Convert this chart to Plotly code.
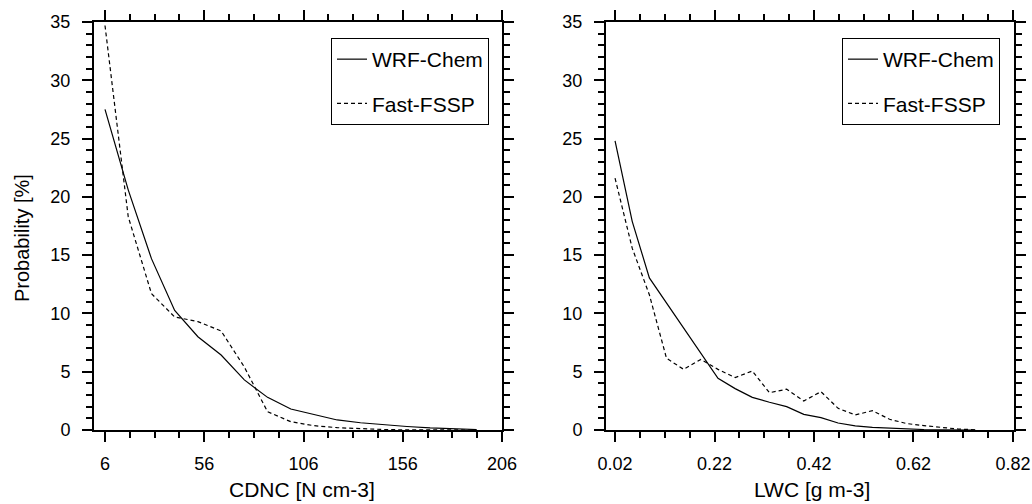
import plotly.graph_objects as go

# ---- data ----
cdnc_bins = [6, 17.7, 29.4, 41.1, 52.8, 64.5, 76.2, 87.9, 99.6, 111.3, 123.0,
             134.7, 146.4, 158.1, 169.8, 181.5, 193.2]
cdnc_wrf = [27.5, 20.6, 14.7, 10.25, 8.0, 6.43, 4.3, 2.8, 1.8, 1.3, 0.86,
            0.62, 0.45, 0.3, 0.18, 0.1, 0.04]
cdnc_fssp = [34.7, 18.3, 11.7, 9.7, 9.3, 8.5, 5.4, 1.57, 0.71, 0.37, 0.2,
             0.1, 0.04, 0.01, 0.0, 0.0, 0.0]

lwc_bins = [0.02, 0.0545, 0.089, 0.1235, 0.158, 0.1925, 0.227, 0.2615, 0.296,
            0.3305, 0.365, 0.3995, 0.434, 0.4685, 0.503, 0.5375, 0.572,
            0.6065, 0.641, 0.6755, 0.71, 0.7445]
lwc_wrf = [24.8, 17.9, 13.05, 10.9, 8.75, 6.6, 4.43, 3.55, 2.8, 2.38, 2.0,
           1.34, 1.06, 0.6, 0.35, 0.22, 0.14, 0.08, 0.04, 0.02, 0.01, 0.0]
lwc_fssp = [21.6, 15.6, 11.6, 6.15, 5.2, 6.06, 5.2, 4.5, 5.06, 3.2, 3.5,
            2.49, 3.29, 1.86, 1.29, 1.66, 0.92, 0.55, 0.38, 0.22, 0.08, 0.02]

cdnc_ticks = [6, 56, 106, 156, 206]
lwc_ticks = [0.02, 0.22, 0.42, 0.62, 0.82]
lwc_ticklabels = ["0.02", "0.22", "0.42", "0.62", "0.82"]
y_ticks = [0, 5, 10, 15, 20, 25, 30, 35]

series_names = ["WRF-Chem", "Fast-FSSP"]

# ---- figure ----
W, H = 1032, 504
FONT = "Liberation Sans, Arial, Helvetica, sans-serif"

fig = go.Figure()

dash_fssp = "4px,3px"
fig.add_trace(go.Scatter(x=cdnc_bins, y=cdnc_wrf, mode="lines", name=series_names[0],
                         line=dict(color="black", width=1.2), xaxis="x", yaxis="y",
                         legend="legend", legendgroup="a1"))
fig.add_trace(go.Scatter(x=cdnc_bins, y=cdnc_fssp, mode="lines", name=series_names[1],
                         line=dict(color="black", width=1.2, dash=dash_fssp),
                         xaxis="x", yaxis="y", legend="legend", legendgroup="a2"))
fig.add_trace(go.Scatter(x=lwc_bins, y=lwc_wrf, mode="lines", name=series_names[0],
                         line=dict(color="black", width=1.2), xaxis="x2", yaxis="y2",
                         legend="legend2", legendgroup="b1"))
fig.add_trace(go.Scatter(x=lwc_bins, y=lwc_fssp, mode="lines", name=series_names[1],
                         line=dict(color="black", width=1.2, dash=dash_fssp),
                         xaxis="x2", yaxis="y2", legend="legend2", legendgroup="b2"))


def px_x(p):
    return p / W


def px_y(p):
    return 1 - p / H


common = dict(
    showline=True, linecolor="black", linewidth=2, mirror="ticks",
    ticks="outside", ticklen=10, tickwidth=2, tickcolor="black",
    showgrid=False, zeroline=False,
    tickfont=dict(family=FONT, size=18, color="black"),
    automargin=False,
)

legend_common = dict(
    xref="paper", yref="paper", xanchor="right", yanchor="top",
    bgcolor="white", bordercolor="black", borderwidth=1,
    font=dict(family=FONT, size=21, color="black"),
    itemwidth=30, tracegroupgap=14, traceorder="grouped",
)

fig.update_layout(
    width=W, height=H,
    margin=dict(l=0, r=0, t=0, b=0),
    paper_bgcolor="white", plot_bgcolor="white",
    font=dict(family=FONT, color="black"),
    xaxis=dict(domain=[px_x(94), px_x(502)], anchor="y", range=[0.46, 206],
               tickvals=cdnc_ticks,
               minor=dict(tick0=6, dtick=12.5, ticks="outside", ticklen=6,
                          tickwidth=1.5, tickcolor="black"),
               ticklabelstandoff=6, **common),
    yaxis=dict(domain=[px_y(430), px_y(22)], anchor="x", range=[0, 35],
               tickvals=y_ticks,
               minor=dict(tick0=0, dtick=1, ticks="outside", ticklen=6,
                          tickwidth=1.5, tickcolor="black"),
               ticklabelstandoff=8, **common),
    xaxis2=dict(domain=[px_x(606), px_x(1014)], anchor="y2", range=[0.0018, 0.8222],
                tickvals=lwc_ticks, ticktext=lwc_ticklabels,
                minor=dict(tick0=0.02, dtick=0.05, ticks="outside", ticklen=6,
                           tickwidth=1.5, tickcolor="black"),
                ticklabelstandoff=6, **common),
    yaxis2=dict(domain=[px_y(430), px_y(22)], anchor="x2", range=[0, 35],
                tickvals=y_ticks,
                minor=dict(tick0=0, dtick=1, ticks="outside", ticklen=6,
                           tickwidth=1.5, tickcolor="black"),
                ticklabelstandoff=8, **common),
    legend=dict(x=px_x(489), y=px_y(38), **legend_common),
    legend2=dict(x=px_x(1000), y=px_y(38), **legend_common),
    showlegend=True,
    annotations=[
        dict(text="CDNC [N cm-3]", x=px_x(302), y=px_y(489), xref="paper", yref="paper",
             xanchor="center", yanchor="middle", showarrow=False,
             font=dict(family=FONT, size=21, color="black")),
        dict(text="LWC [g m-3]", x=px_x(812), y=px_y(489), xref="paper", yref="paper",
             xanchor="center", yanchor="middle", showarrow=False,
             font=dict(family=FONT, size=21, color="black")),
        dict(text="Probability [%]", x=px_x(22), y=px_y(238), xref="paper", yref="paper",
             xanchor="center", yanchor="middle", showarrow=False, textangle=-90,
             font=dict(family=FONT, size=20, color="black")),
    ],
)

fig.write_html(
    "out.html",
    config={"displayModeBar": False},
    post_script="document.body.style.margin='0';document.body.style.overflow='hidden';",
)
